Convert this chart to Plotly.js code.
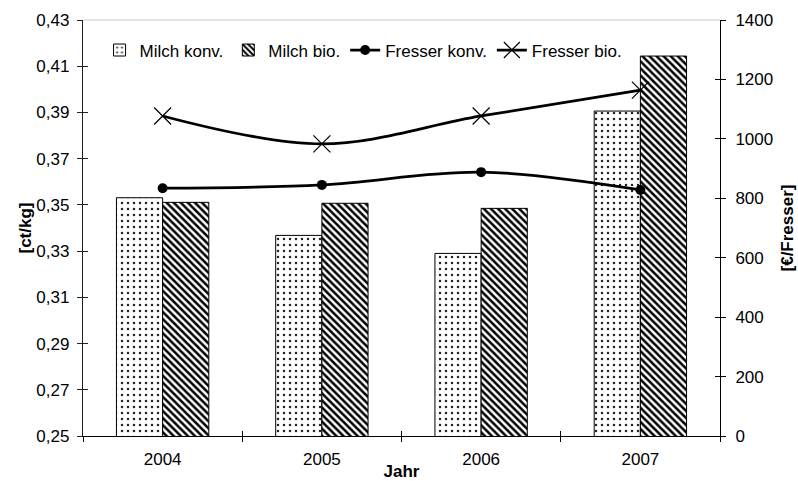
<!DOCTYPE html>
<html>
<head>
<meta charset="utf-8">
<script src="https://cdn.plot.ly/plotly-3.0.1.min.js"></script>
<style>
  html, body { margin: 0; padding: 0; background: #fff; }
  #chart { width: 798px; height: 481px; }
</style>
</head>
<body>
<div id="chart"></div>
<script>
// Jahre (Kategorien)
const years = ['2004', '2005', '2006', '2007'];

// Milchpreis [ct/kg], linke Achse
const milchKonv = [0.3531, 0.3368, 0.3290, 0.3906];
const milchBio  = [0.3511, 0.3507, 0.3485, 0.4144];

// Fresserpreis [€/Fresser], rechte Achse
const fresserKonv = [834, 845, 888, 828];
const fresserBio  = [1077, 983, 1077, 1164];

// Achsenbereiche und Ticks
const leftRange = [0.25, 0.43];
const rightRange = [0, 1400];
const boundaryTicks = [-0.5, 0.5, 1.5, 2.5, 3.5];

const FONT = 'Liberation Sans, Arial, sans-serif';
const FS = 17;

const traces = [
  {
    type: 'bar', name: 'Milch konv.', x: years, y: milchKonv,
    xaxis: 'x', yaxis: 'y',
    marker: {
      color: '#ffffff',
      line: { color: '#000', width: 1 },
      pattern: { shape: '.', fgcolor: '#222', bgcolor: '#ffffff', size: 6, solidity: 0.14 }
    }
  },
  {
    type: 'bar', name: 'Milch bio.', x: years, y: milchBio,
    xaxis: 'x', yaxis: 'y',
    marker: {
      color: '#ffffff',
      line: { color: '#000', width: 1 },
      pattern: { shape: '\\', fgcolor: '#000', bgcolor: '#ffffff', size: 5, solidity: 0.5 }
    }
  },
  {
    type: 'scatter', mode: 'lines+markers', name: 'Fresser konv.',
    x: years, y: fresserKonv, xaxis: 'x', yaxis: 'y2',
    line: { color: '#000', width: 2.75, shape: 'spline', smoothing: 1 },
    marker: { symbol: 'circle', size: 10, color: '#000' }
  },
  {
    type: 'scatter', mode: 'lines+markers', name: 'Fresser bio.',
    x: years, y: fresserBio, xaxis: 'x', yaxis: 'y2',
    line: { color: '#000', width: 2.75, shape: 'spline', smoothing: 1 },
    marker: { symbol: 'x-thin-open', size: 17, color: '#000', line: { color: '#000', width: 1.2 } }
  },
  // leere Hilfsspuren, damit die Achsen mit Innen-Ticks (Kreuz-Ticks) gezeichnet werden
  { type: 'scatter', x: [], y: [], xaxis: 'x2', yaxis: 'y', showlegend: false, hoverinfo: 'skip' },
  { type: 'scatter', x: [], y: [], xaxis: 'x', yaxis: 'y3', showlegend: false, hoverinfo: 'skip' },
  { type: 'scatter', x: [], y: [], xaxis: 'x', yaxis: 'y4', showlegend: false, hoverinfo: 'skip' }
];

const layout = {
  width: 798, height: 481,
  margin: { l: 83, r: 78, t: 20, b: 45, pad: 0 },
  paper_bgcolor: '#fff', plot_bgcolor: '#fff',
  font: { family: FONT, size: FS, color: '#000' },
  separators: ',.',
  barmode: 'group', bargap: 0.42, bargroupgap: 0,
  showlegend: true,
  legend: {
    orientation: 'h', x: 0.026, xanchor: 'left', y: 0.97, yanchor: 'top',
    bgcolor: 'rgba(0,0,0,0)', font: { family: FONT, size: FS },
    traceorder: 'normal', itemclick: false
  },
  xaxis: {
    type: 'category', range: [-0.5, 3.5],
    showline: true, linecolor: '#000', linewidth: 1,
    ticks: 'outside', ticklen: 5, tickcolor: '#000', tickson: 'boundaries',
    showgrid: false, zeroline: false,
    ticklabelstandoff: 8,
    title: { text: '<b>Jahr</b>', font: { family: FONT, size: FS }, standoff: 3 },
    fixedrange: true
  },
  xaxis2: {
    overlaying: 'x', anchor: 'y', range: [-0.5, 3.5],
    tickmode: 'array', tickvals: boundaryTicks,
    ticks: 'inside', ticklen: 5, tickcolor: '#000',
    showticklabels: false, showline: false, showgrid: false, zeroline: false
  },
  yaxis: {
    range: leftRange, dtick: 0.02, tick0: 0.25, tickformat: '.2f',
    showline: true, linecolor: '#222', linewidth: 1.2,
    ticks: 'outside', ticklen: 5, tickcolor: '#222',
    showgrid: false, zeroline: false,
    ticklabelstandoff: 4,
    title: { text: '<b>[ct/kg]</b>', font: { family: FONT, size: FS }, standoff: 0 }
  },
  yaxis2: {
    overlaying: 'y', side: 'right', anchor: 'x',
    range: rightRange, dtick: 200, tick0: 0,
    showline: true, linecolor: '#000', linewidth: 1,
    ticks: 'outside', ticklen: 5, tickcolor: '#000',
    showgrid: false, zeroline: false,
    ticklabelstandoff: 6,
    title: { text: '<b>[€/Fresser]</b>', font: { family: FONT, size: FS }, standoff: 8 }
  },
  yaxis3: {
    overlaying: 'y', anchor: 'x', side: 'left',
    range: leftRange, dtick: 0.02, tick0: 0.25,
    ticks: 'inside', ticklen: 5, tickcolor: '#222',
    showticklabels: false, showline: false, showgrid: false, zeroline: false
  },
  yaxis4: {
    overlaying: 'y', anchor: 'x', side: 'right',
    range: rightRange, dtick: 200, tick0: 0,
    ticks: 'inside', ticklen: 5, tickcolor: '#000',
    showticklabels: false, showline: false, showgrid: false, zeroline: false
  },
  shapes: [
    // obere Rahmenlinie der Zeichenfläche
    { type: 'line', xref: 'paper', yref: 'paper', x0: 0, x1: 1, y0: 1, y1: 1,
      line: { color: '#c8c8c8', width: 1 } }
  ]
};

Plotly.newPlot('chart', traces, layout, { displayModeBar: false, staticPlot: true });
</script>
</body>
</html>
